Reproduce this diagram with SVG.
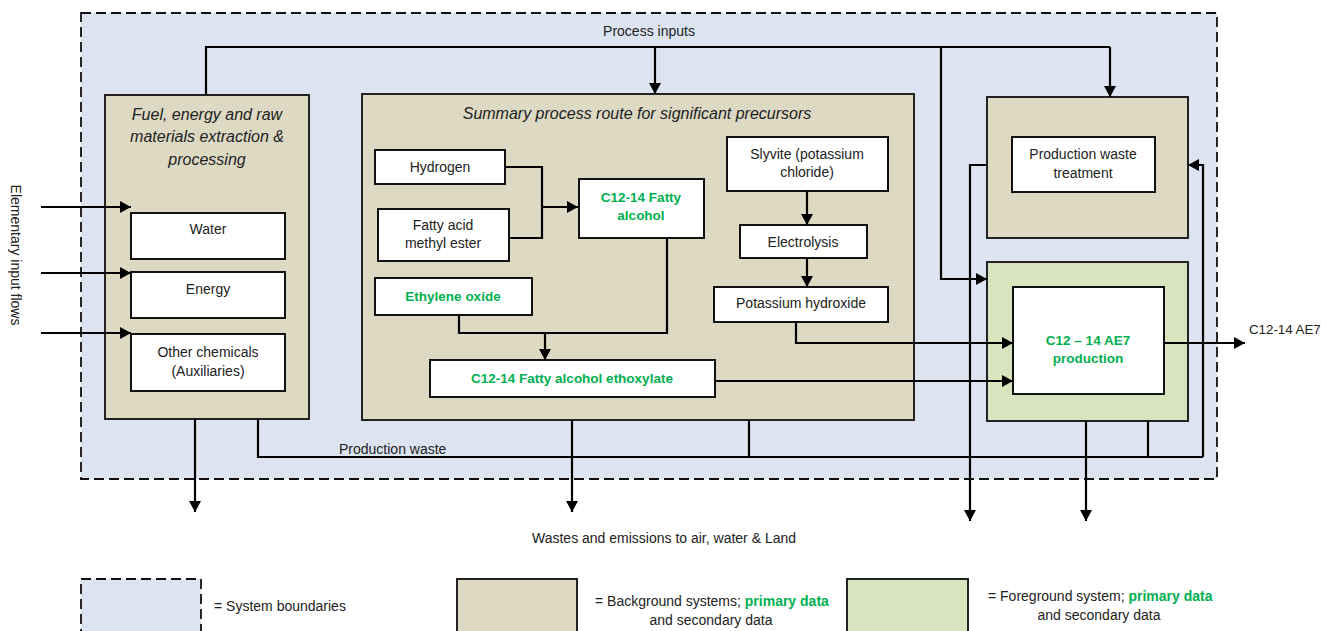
<svg xmlns="http://www.w3.org/2000/svg" width="1323" height="631" viewBox="0 0 1323 631">
<style>
text{font-family:"Liberation Sans",Arial,sans-serif;fill:#222;}
.t{font-size:14px;text-anchor:middle;}
.ti{font-size:16px;font-style:italic;text-anchor:middle;}
.g{font-size:13.5px;font-weight:bold;fill:#00b050;text-anchor:middle;}
.gs{font-weight:bold;fill:#00b050;}
.lbl{font-size:14px;}
.bg{fill:#ddd9c3;stroke:#222;stroke-width:2;}
.fg{fill:#d7e4bd;stroke:#222;stroke-width:2;}
.wb{fill:#fff;stroke:#111;stroke-width:2;}
.sb{fill:#dbe4f0;stroke:#111;stroke-width:1.8;stroke-dasharray:10,5;}
.c{fill:none;stroke:#000;stroke-width:2.2;}
.ca{fill:none;stroke:#000;stroke-width:2.2;marker-end:url(#ah);}
</style>
<defs>
<marker id="ah" markerUnits="userSpaceOnUse" markerWidth="12" markerHeight="12" refX="11" refY="6" orient="auto">
<path d="M0,0 L11,6 L0,12 z" fill="#000"/>
</marker>
</defs>

<g id="system-boundary">
<rect class="sb" x="81" y="13" width="1136" height="466"/>
<text class="lbl" x="649" y="36" text-anchor="middle">Process inputs</text>
<text class="lbl" x="339" y="454">Production waste</text>
<text class="lbl" x="664" y="543" text-anchor="middle">Wastes and emissions to air, water &amp; Land</text>
<text class="lbl" x="16" y="255" text-anchor="middle" transform="rotate(90 16 255)" dy="5">Elementary input flows</text>
<text x="1249" y="334" style="font-size:13.3px">C12-14 AE7</text>
</g>

<g id="fuel-box">
<rect class="bg" x="105" y="95" width="204" height="324"/>
<text class="ti" x="207" y="120">Fuel, energy and raw</text>
<text class="ti" x="207" y="142">materials extraction &amp;</text>
<text class="ti" x="207" y="165">processing</text>
</g>
<g id="water"><rect class="wb" x="131" y="213" width="154" height="46"/><text class="t" x="208" y="234">Water</text></g>
<g id="energy"><rect class="wb" x="131" y="272" width="154" height="46"/><text class="t" x="208" y="294">Energy</text></g>
<g id="other-chemicals"><rect class="wb" x="131" y="334" width="154" height="57"/><text class="t" x="208" y="357">Other chemicals</text><text class="t" x="208" y="376">(Auxiliaries)</text></g>

<g id="summary-box">
<rect class="bg" x="362" y="94" width="552" height="326"/>
<text class="ti" x="637" y="119">Summary process route for significant precursors</text>
</g>
<g id="hydrogen"><rect class="wb" x="375" y="150" width="130" height="34"/><text class="t" x="440" y="172">Hydrogen</text></g>
<g id="fame"><rect class="wb" x="378" y="209" width="131" height="52"/><text class="t" x="443" y="230">Fatty acid</text><text class="t" x="443" y="248">methyl ester</text></g>
<g id="fatty-alcohol"><rect class="wb" x="579" y="179" width="125" height="59"/><text class="g" x="641" y="202">C12-14 Fatty</text><text class="g" x="641" y="220">alcohol</text></g>
<g id="ethylene-oxide"><rect class="wb" x="375" y="278" width="157" height="37"/><text class="g" x="453" y="301">Ethylene oxide</text></g>
<g id="ethoxylate"><rect class="wb" x="430" y="360" width="285" height="37"/><text class="g" x="572" y="383">C12-14 Fatty alcohol ethoxylate</text></g>
<g id="slyvite"><rect class="wb" x="727" y="137" width="161" height="54"/><text class="t" x="807" y="159">Slyvite (potassium</text><text class="t" x="807" y="177">chloride)</text></g>
<g id="electrolysis"><rect class="wb" x="740" y="225" width="127" height="33"/><text class="t" x="803" y="247">Electrolysis</text></g>
<g id="koh"><rect class="wb" x="714" y="287" width="174" height="35"/><text class="t" x="801" y="308">Potassium hydroxide</text></g>

<g id="waste-treatment">
<rect class="bg" x="987" y="97" width="201" height="141"/>
<rect class="wb" x="1012" y="137" width="143" height="55"/>
<text class="t" x="1083" y="159">Production waste</text>
<text class="t" x="1083" y="178">treatment</text>
</g>
<g id="ae7-production">
<rect class="fg" x="987" y="262" width="201" height="159"/>
<rect class="wb" x="1013" y="287" width="151" height="107"/>
<text class="g" x="1088" y="345">C12 – 14 AE7</text>
<text class="g" x="1088" y="363">production</text>
</g>

<g id="connectors">
<path class="ca" d="M41,207 H131"/>
<path class="ca" d="M41,273 H131"/>
<path class="ca" d="M41,333 H131"/>
<path class="c" d="M206,95 V47 H1110"/>
<path class="ca" d="M1110,47 V97"/>
<path class="ca" d="M655,47 V94"/>
<path class="ca" d="M941,47 V279 H987"/>
<path class="c" d="M505,167 H542 V238 H509"/>
<path class="ca" d="M542,207 H578"/>
<path class="c" d="M459,315 V333 H667 V238"/>
<path class="ca" d="M545,333 V360"/>
<path class="ca" d="M715,381 H1013"/>
<path class="ca" d="M807,191 V225"/>
<path class="ca" d="M807,258 V287"/>
<path class="ca" d="M796,322 V343 H1013"/>
<path class="ca" d="M987,165 H970 V521"/>
<path class="ca" d="M1203,457 V165 H1188"/>
<path class="ca" d="M1164,343 H1245"/>
<path class="ca" d="M1086,421 V521"/>
<path class="c" d="M1148,421 V457"/>
<path class="c" d="M258,419 V457 H1203"/>
<path class="c" d="M749,420 V457"/>
<path class="ca" d="M195,419 V512"/>
<path class="ca" d="M572,420 V512"/>
</g>

<g id="legend">
<rect class="sb" x="81" y="579" width="120" height="60"/>
<text class="lbl" x="214" y="611">= System boundaries</text>
<rect class="bg" x="457" y="579" width="120" height="60"/>
<text class="lbl" x="595" y="606">=  Background systems; <tspan class="gs">primary data</tspan></text>
<text class="lbl" x="711" y="625" text-anchor="middle">and secondary data</text>
<rect class="fg" x="847" y="579" width="121" height="60"/>
<text class="lbl" x="988" y="601">= Foreground system; <tspan class="gs">primary data</tspan></text>
<text class="lbl" x="1099" y="620" text-anchor="middle">and secondary data</text>
</g>
</svg>
